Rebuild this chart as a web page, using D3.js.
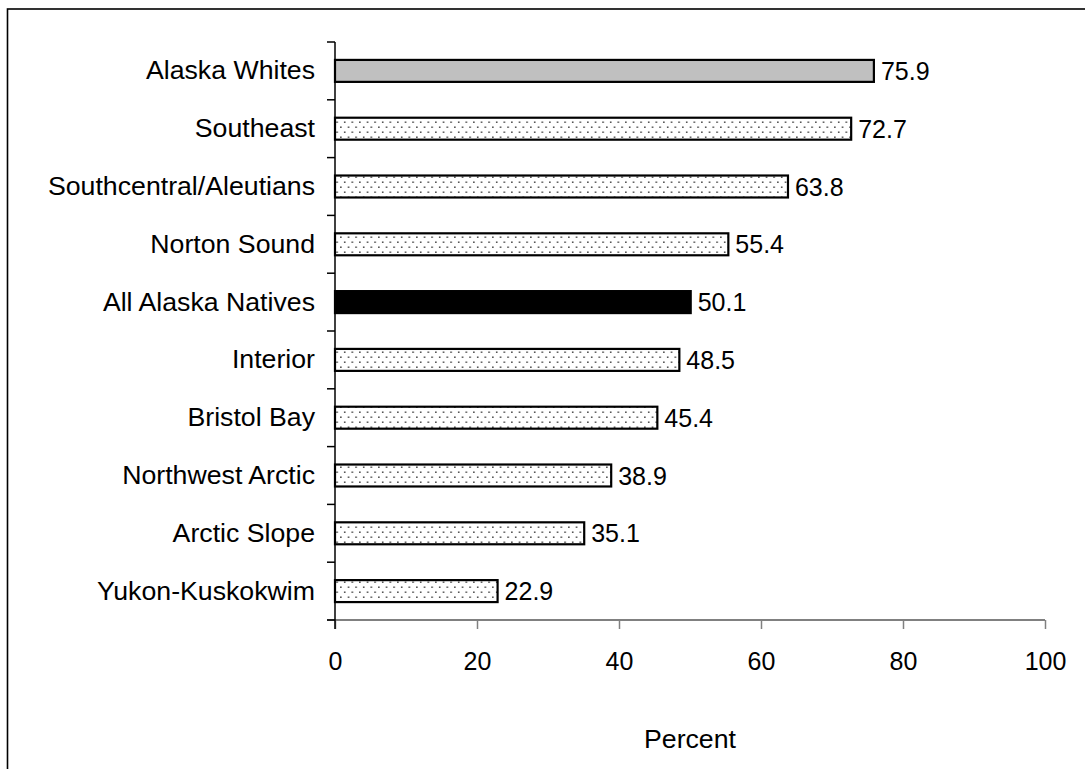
<!DOCTYPE html>
<html>
<head>
<meta charset="utf-8">
<script src="https://cdn.jsdelivr.net/npm/d3@7"></script>
<style>
  html, body { margin: 0; padding: 0; background: #fff; }
  svg { display: block; font-family: "Liberation Sans", Arial, sans-serif; }
</style>
</head>
<body>
<svg id="chart" width="1085" height="769"></svg>
<script>
// Regions, listed top to bottom
const categories = [
  "Alaska Whites",
  "Southeast",
  "Southcentral/Aleutians",
  "Norton Sound",
  "All Alaska Natives",
  "Interior",
  "Bristol Bay",
  "Northwest Arctic",
  "Arctic Slope",
  "Yukon-Kuskokwim"
];
// Percent value for each region
const values = [75.9, 72.7, 63.8, 55.4, 50.1, 48.5, 45.4, 38.9, 35.1, 22.9];
// Bar fill style for each region
const fillKinds = ["gray", "dots", "dots", "dots", "black", "dots", "dots", "dots", "dots", "dots"];
const xTicks = [0, 20, 40, 60, 80, 100];
const xTitle = "Percent";

const svg = d3.select("#chart");
const numSize = 25;
const labelSize = 26.7;

const plot = { left: 335, right: 1045, top: 42, bottom: 620 };

// Dotted fill pattern
const defs = svg.append("defs");
const pat = defs.append("pattern")
  .attr("id", "dots")
  .attr("patternUnits", "userSpaceOnUse")
  .attr("width", 7.6).attr("height", 10);
pat.append("rect").attr("width", 7.6).attr("height", 10).attr("fill", "#fff");
pat.append("rect").attr("x", 2).attr("y", 1.5).attr("width", 1.4).attr("height", 1.4).attr("fill", "#222");
pat.append("rect").attr("x", 5.8).attr("y", 6.5).attr("width", 1.4).attr("height", 1.4).attr("fill", "#222");

const fills = { gray: "#c0c0c0", black: "#000", dots: "url(#dots)" };

// Outer frame
svg.append("rect")
  .attr("x", 7.5).attr("y", 9)
  .attr("width", 1200).attr("height", 900)
  .attr("fill", "none")
  .attr("stroke", "#000")
  .attr("stroke-width", 1.6);

const x = d3.scaleLinear().domain([0, 100]).range([plot.left, plot.right]);
const y = d3.scaleBand()
  .domain(categories)
  .range([plot.top, plot.bottom])
  .paddingInner(0.62)
  .paddingOuter(0.31);

// X axis
const xAxisG = svg.append("g")
  .attr("transform", `translate(0,${plot.bottom})`)
  .call(d3.axisBottom(x).tickValues(xTicks).tickSize(9).tickSizeOuter(0).tickPadding(23));
xAxisG.select(".domain").remove();
xAxisG.selectAll(".tick line").attr("stroke", "#808080").attr("stroke-width", 1.5);
xAxisG.selectAll(".tick text")
  .attr("fill", "#000")
  .style("font-size", numSize + "px")
  .style("font-family", "'Liberation Sans', Arial, sans-serif");
xAxisG.append("line")
  .attr("x1", x(0) - 8).attr("x2", x(100))
  .attr("y1", 0).attr("y2", 0)
  .attr("stroke", "#808080").attr("stroke-width", 2);

// Y axis labels
const yAxisG = svg.append("g")
  .attr("transform", `translate(${plot.left},0)`)
  .call(d3.axisLeft(y).tickSize(0).tickPadding(20));
yAxisG.select(".domain").remove();
yAxisG.selectAll(".tick text")
  .attr("fill", "#000")
  .style("font-size", labelSize + "px")
  .style("font-family", "'Liberation Sans', Arial, sans-serif");

// Y axis line and category boundary ticks
svg.append("line")
  .attr("x1", plot.left).attr("x2", plot.left)
  .attr("y1", plot.top).attr("y2", plot.bottom + 9)
  .attr("stroke", "#000").attr("stroke-width", 1.5);
d3.range(categories.length + 1).forEach(i => {
  const yy = y.range()[0] + i * y.step();
  svg.append("line")
    .attr("x1", plot.left - 8).attr("x2", plot.left)
    .attr("y1", yy).attr("y2", yy)
    .attr("stroke", "#000").attr("stroke-width", 1.5);
});

// Bars
const data = categories.map((c, i) => ({ cat: c, value: values[i], kind: fillKinds[i] }));
svg.append("g").selectAll("rect")
  .data(data)
  .join("rect")
  .attr("x", x(0))
  .attr("y", d => y(d.cat))
  .attr("width", d => x(d.value) - x(0))
  .attr("height", y.bandwidth())
  .attr("fill", d => fills[d.kind])
  .attr("stroke", "#000")
  .attr("stroke-width", 2.2);

// Value labels
svg.append("g").selectAll("text")
  .data(data)
  .join("text")
  .attr("x", d => x(d.value) + 7)
  .attr("y", d => y(d.cat) + y.bandwidth() / 2)
  .attr("dy", "0.36em")
  .style("font-size", numSize + "px")
  .attr("fill", "#000")
  .text(d => d.value.toFixed(1));

// Axis title
svg.append("text")
  .attr("x", (plot.left + plot.right) / 2)
  .attr("y", 748)
  .attr("text-anchor", "middle")
  .style("font-size", labelSize + "px")
  .attr("fill", "#000")
  .text(xTitle);
</script>
</body>
</html>
